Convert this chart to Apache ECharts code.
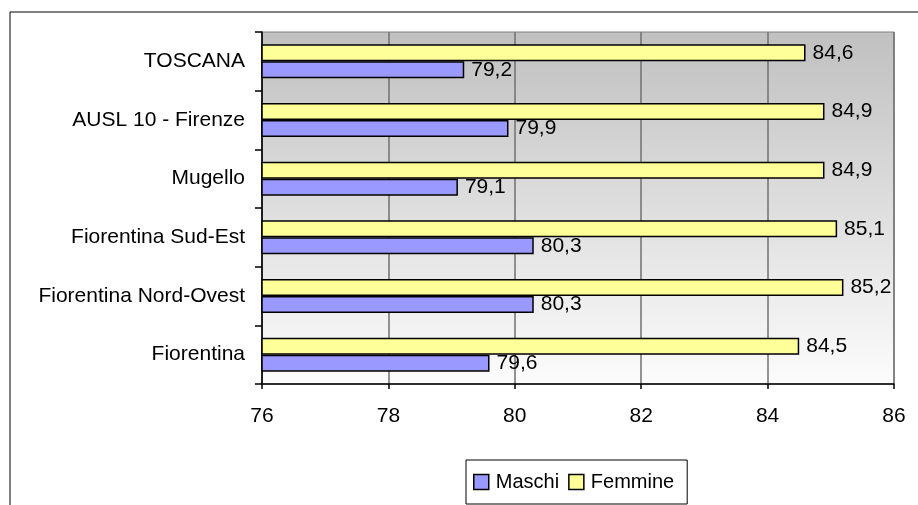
<!DOCTYPE html>
<html>
<head>
<meta charset="utf-8">
<script src="https://cdn.jsdelivr.net/npm/echarts@6/dist/echarts.min.js"></script>
<style>
  html, body { margin: 0; padding: 0; background: #fff; }
  #chart { width: 918px; height: 505px; }
</style>
</head>
<body>
<div id="chart"></div>
<script>
// Life expectancy at birth by area, males and females
const categories = ['Fiorentina', 'Fiorentina Nord-Ovest', 'Fiorentina Sud-Est', 'Mugello', 'AUSL 10 - Firenze', 'TOSCANA'];
const maschi = [79.6, 80.3, 80.3, 79.1, 79.9, 79.2];
const femmine = [84.5, 85.2, 85.1, 84.9, 84.9, 84.6];
const xTicks = [76, 78, 80, 82, 84, 86];

const FONT = 'Liberation Sans, Arial, sans-serif';
const fmt = v => String(v).replace('.', ',');

const chart = echarts.init(document.getElementById('chart'), null, { renderer: 'canvas' });

const labelCfg = {
  show: true,
  position: 'right',
  distance: 7,
  color: '#000',
  fontFamily: FONT,
  fontSize: 21,
  formatter: p => fmt(p.value)
};

chart.setOption({
  animation: false,
  backgroundColor: '#fff',
  textStyle: { fontFamily: FONT },
  graphic: [
    { type: 'line', shape: { x1: 10, y1: 12, x2: 918, y2: 12 }, style: { stroke: '#000', lineWidth: 1 } },
    { type: 'line', shape: { x1: 10, y1: 12, x2: 10, y2: 505 }, style: { stroke: '#000', lineWidth: 1 } }
  ],
  grid: {
    left: 262, top: 32, right: 24, bottom: 121,
    show: true,
    borderColor: '#808080',
    borderWidth: 1,
    backgroundColor: new echarts.graphic.LinearGradient(0, 0, 0, 1, [
      { offset: 0, color: '#c0c0c0' },
      { offset: 1, color: '#fcfcfc' }
    ])
  },
  legend: {
    data: ['Maschi', 'Femmine'],
    left: 466, top: 460,
    orient: 'horizontal',
    itemWidth: 15, itemHeight: 15,
    itemGap: 9,
    padding: [12, 13, 12, 7],
    borderColor: '#000',
    borderWidth: 1,
    backgroundColor: '#fff',
    icon: 'rect',
    itemStyle: { borderColor: '#000', borderWidth: 1.5 },
    textStyle: { fontFamily: FONT, fontSize: 20, color: '#000', padding: [0, 0, 0, 2] }
  },
  xAxis: {
    type: 'value',
    min: 76, max: 86, interval: 2,
    axisLine: { show: true, lineStyle: { color: '#000', width: 1.5 } },
    axisTick: { show: true, length: 5, lineStyle: { color: '#000', width: 1.5 } },
    axisLabel: {
      margin: 22, color: '#000', fontFamily: FONT, fontSize: 21,
      formatter: v => xTicks.includes(v) ? String(v) : ''
    },
    splitLine: { show: true, lineStyle: { color: '#707070', width: 1.5 } }
  },
  yAxis: {
    type: 'category',
    data: categories,
    axisLine: { show: true, lineStyle: { color: '#000', width: 1.5 } },
    axisTick: { show: true, length: 7, lineStyle: { color: '#000', width: 1.5 } },
    axisLabel: { margin: 17, color: '#000', fontFamily: FONT, fontSize: 21 }
  },
  series: [
    {
      name: 'Femmine',
      type: 'bar',
      data: femmine,
      barWidth: 17,
      barGap: '0%',
      itemStyle: { color: '#ffff99', borderColor: '#000', borderWidth: 1.5 },
      label: labelCfg
    },
    {
      name: 'Maschi',
      type: 'bar',
      data: maschi,
      barWidth: 17,
      barGap: '0%',
      itemStyle: { color: '#9999ff', borderColor: '#000', borderWidth: 1.5 },
      label: labelCfg
    }
  ]
});
</script>
</body>
</html>
